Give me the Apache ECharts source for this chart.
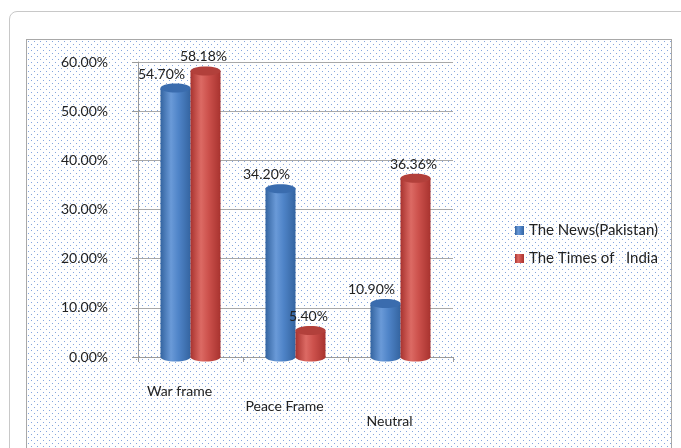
<!DOCTYPE html>
<html><head><meta charset="utf-8">
<script src="https://cdn.jsdelivr.net/npm/echarts@6/dist/echarts.min.js"></script>
<style>
html,body{margin:0;padding:0;background:#fff;}
#wrap{position:relative;width:681px;height:448px;overflow:hidden;}
#outer{position:absolute;left:9px;top:11px;width:700px;height:460px;border:1px solid #c8c8c8;border-radius:8px;background:#fff;}
#inner{position:absolute;left:26px;top:39px;width:644px;height:430px;border:1px solid #a8a8a8;
background-color:#fff;
background-image:url("data:image/svg+xml,%3Csvg xmlns='http://www.w3.org/2000/svg' width='6' height='6'%3E%3Crect x='1' y='1' width='1' height='1' fill='%2385a6de'/%3E%3Crect x='4' y='4' width='1' height='1' fill='%2385a6de'/%3E%3C/svg%3E");
background-size:6px 6px;}
#chart{position:absolute;left:0;top:0;width:681px;height:448px;}
</style></head>
<body><div id="wrap"><div id="outer"></div><div id="inner"></div><div id="chart"></div></div>
<script>
var categories = ['War frame', 'Peace Frame', 'Neutral'];
var seriesNames = ['The News(Pakistan)', 'The Times of   India'];
var newsPakistan = [54.70, 34.20, 10.90];
var timesIndia = [58.18, 5.40, 36.36];
var yTicks = [0, 10, 20, 30, 40, 50, 60];

var chart = echarts.init(document.getElementById('chart'), null, {renderer:'canvas'});
function grad(dark, light, mid){
  return new echarts.graphic.LinearGradient(0,0,1,0,[
    {offset:0,color:dark},{offset:0.35,color:light},{offset:0.6,color:mid},{offset:1,color:dark}]);
}
var blueBody = grad('#3464a0','#6a9ad8','#4f84c8');
var redBody = grad('#a8332f','#dc6a64','#cc514c');
var font = 'Lato, "Open Sans", sans-serif';
var lbl = {show:true, position:'top', distance:7, color:'#222', fontSize:14, fontFamily:font,
  formatter:function(p){return p.value.toFixed(2)+'%';}};
var BW = 30, CAP = 9;
function capSeries(name, data, side, topColor, bodyColor){
  return {name:name, type:'custom', z:4, silent:true,
    data:data.map(function(v,i){return [i,v];}),
    renderItem:function(params, api){
      var top = api.coord([api.value(0), api.value(1)]);
      var base = api.coord([api.value(0), 0]);
      var cx = top[0] + side*BW/2;
      return {type:'group', children:[
        {type:'ellipse', shape:{cx:cx, cy:base[1], rx:BW/2, ry:CAP/2}, style:{fill:bodyColor}, z2:1},
        {type:'ellipse', shape:{cx:cx, cy:top[1], rx:BW/2, ry:CAP/2}, style:{fill:topColor}, z2:3}
      ]};
    }};
}
chart.setOption({
  backgroundColor:'transparent',
  animation:false,
  grid:{left:138, right:228, top:62, bottom:91},
  legend:{orient:'vertical', left:510, top:218, itemGap:13, itemWidth:9, itemHeight:9,
    icon:'rect', data:seriesNames, textStyle:{fontSize:15, fontFamily:font, color:'#222'}},
  xAxis:{type:'category', data:categories,
    axisLine:{lineStyle:{color:'#9a9a9a'}},
    axisTick:{show:true, alignWithLabel:false, lineStyle:{color:'#9a9a9a'}},
    axisLabel:{fontSize:14, fontFamily:font, color:'#222', margin:27, lineHeight:15,
      padding:[0,22,0,0],
      formatter:function(v, i){ return (i===1?'\n':'') + (i===2?'\n\n':'') + v; }}},
  yAxis:{type:'value', min:yTicks[0], max:yTicks[yTicks.length-1], interval:10,
    axisLine:{show:true, lineStyle:{color:'#9a9a9a'}},
    axisTick:{show:true, length:6, lineStyle:{color:'#9a9a9a'}},
    splitLine:{lineStyle:{color:'#a8a8a8'}},
    axisLabel:{fontSize:14, fontFamily:font, color:'#222', margin:30,
      formatter:function(v){return v.toFixed(2)+'%';}}},
  series:[
    {name:seriesNames[0], type:'bar', data:newsPakistan, barWidth:BW, barGap:'0%', z:3,
      itemStyle:{color:blueBody}, label:Object.assign({}, lbl, {offset:[-14,0]})},
    {name:seriesNames[1], type:'bar', data:timesIndia, barWidth:BW, barGap:'0%', z:3,
      itemStyle:{color:redBody}, label:Object.assign({}, lbl, {offset:[-2,0]})},
    capSeries('capN', newsPakistan, -1, '#3a6cae', blueBody),
    capSeries('capT', timesIndia, 1, '#b2403b', redBody)
  ]
});
</script></body></html>
